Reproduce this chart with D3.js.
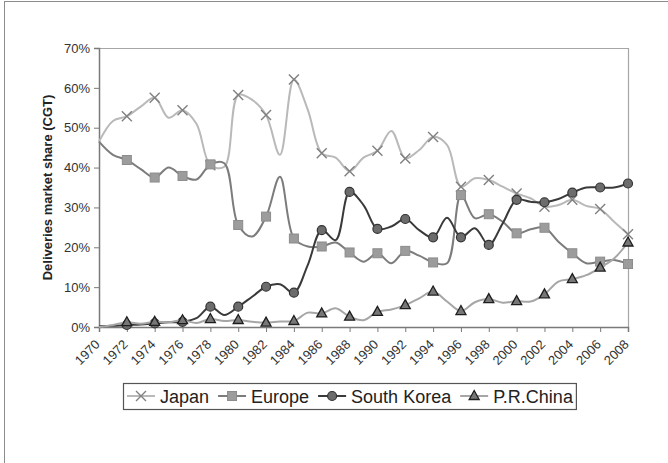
<!DOCTYPE html>
<meta charset="utf-8">
<title>Deliveries market share</title>
<style>
body { margin: 0; background: #fff; }
svg { display: block; font-family: "Liberation Sans", Arial, sans-serif; }
</style>
<svg id="chart"></svg>
<script src="https://cdn.jsdelivr.net/npm/d3@7"></script>
<script>
// annual data 1970-2008, market share in percent (CGT deliveries)
var years = d3.range(1970, 2009)
var japan = [46.5, 51.7, 52.9, 55.3, 57.5, 52.5, 54.4, 51.0, 40.6, 40.2,
  58.2, 57.0, 53.2, 43.2, 62.1, 54.5, 43.6, 42.5, 39.1, 42.5,
  44.2, 49.2, 42.3, 44.4, 47.7, 45.7, 35.2, 37.3, 36.9, 35.2,
  33.5, 32.3, 30.2, 30.6, 31.9, 30.4, 29.6, 26.4, 23.3]
var europe = [46.5, 43.2, 41.9, 39.6, 37.5, 40.0, 37.9, 37.0, 40.8, 41.1,
  25.6, 22.7, 27.7, 37.7, 22.2, 20.2, 20.2, 21.2, 18.7, 16.4,
  18.5, 16.0, 19.1, 17.9, 16.2, 16.0, 33.1, 27.3, 28.3, 26.4,
  23.5, 24.5, 24.9, 21.4, 18.5, 16.0, 16.4, 16.8, 15.8]
var korea = [0.2, 0.3, 0.5, 0.6, 0.9, 1.2, 1.3, 2.2, 5.1, 3.0,
  5.1, 7.6, 10.1, 10.7, 8.6, 15.6, 24.3, 21.8, 33.9, 30.6,
  24.6, 25.2, 27.1, 24.3, 22.5, 27.4, 22.5, 24.8, 20.6, 26.0,
  31.9, 31.4, 31.3, 32.1, 33.7, 35.0, 35.0, 35.0, 36.0]
var china = [0, 0.5, 1.2, 0.8, 1.3, 1.2, 1.7, 1.0, 2.0, 1.5,
  1.75, 1.3, 1.1, 1.4, 1.5, 3.6, 3.4, 4.7, 2.6, 1.7,
  3.8, 4.4, 5.5, 7.2, 8.9, 6.4, 4.0, 6.2, 7.0, 6.1,
  6.5, 6.4, 8.2, 11.4, 12.0, 13.0, 14.9, 17.2, 21.2]
var seriesNames = ["Japan", "Europe", "South Korea", "P.R.China"]
var yTicks = [0, 10, 20, 30, 40, 50, 60, 70]
var xTicks = d3.range(1970, 2009, 2)

var width = 668, height = 463
var margin = {left: 99, right: 40, top: 48, bottom: 136}

var svg = d3.select("#chart").attr("width", width).attr("height", height)

// outer frame (only left and top edges show)
svg.append("rect").attr("x", 4.5).attr("y", 1.5).attr("width", 700).attr("height", 500)
  .attr("fill", "none").attr("stroke", "#8c8c8c").attr("stroke-width", 1)

var x = d3.scaleLinear().domain([1970, 2008]).range([margin.left, width - margin.right])
var y = d3.scaleLinear().domain([0, 70]).range([height - margin.bottom, margin.top])

// plot border top/right
svg.append("path")
  .attr("d", "M" + x(1970) + "," + (y(70) + 0.5) + "H" + (x(2008) + 0.5) + "V" + y(0))
  .attr("fill", "none").attr("stroke", "#a6a6a6").attr("stroke-width", 1.2)

var yAxis = svg.append("g")
  .attr("transform", "translate(" + x(1970) + ",0)")
  .call(d3.axisLeft(y).tickValues(yTicks).tickSize(5).tickPadding(4).tickFormat(function(d) { return d + "%" }))
var xAxis = svg.append("g")
  .attr("transform", "translate(0," + y(0) + ")")
  .call(d3.axisBottom(x).tickValues(xTicks).tickSize(5).tickFormat(d3.format("d")))

svg.selectAll(".domain").attr("stroke", "#7a7a7a").attr("stroke-width", 1.5)
svg.selectAll(".tick line").attr("stroke", "#7a7a7a")
yAxis.selectAll("text").attr("font-size", 13).attr("fill", "#333")
xAxis.selectAll("text")
  .attr("font-size", 13).attr("fill", "#333")
  .attr("text-anchor", "end")
  .attr("transform", "translate(-2,15) rotate(-45)")
  .attr("dy", "0.35em").attr("y", 0)

svg.append("text")
  .attr("transform", "translate(52," + ((y(0) + y(70)) / 2) + ") rotate(-90)")
  .attr("text-anchor", "middle")
  .attr("font-size", 13).attr("font-weight", "bold").attr("fill", "#222")
  .text("Deliveries market share (CGT)")

var styles = [
  {values: japan, line: "#b9b9b9", marker: "x", fill: "none", stroke: "#808080"},
  {values: europe, line: "#7c7c7c", marker: "square", fill: "#9c9c9c", stroke: "#8c8c8c"},
  {values: korea, line: "#3a3a3a", marker: "circle", fill: "#6c6c6c", stroke: "#333"},
  {values: china, line: "#a6a6a6", marker: "triangle", fill: "#777", stroke: "#1e1e1e"}
]

var line = d3.line()
  .x(function(d) { return x(d.year) })
  .y(function(d) { return y(d.value) })
  .curve(d3.curveCatmullRom.alpha(0.5))

function drawMarker(g, type, s) {
  if (type === "x") {
    g.append("path").attr("d", "M-5,-5L5,5M-5,5L5,-5")
      .attr("stroke", s.stroke).attr("stroke-width", 1.4).attr("fill", "none")
  } else if (type === "square") {
    g.append("rect").attr("x", -4.5).attr("y", -4.5).attr("width", 9).attr("height", 9)
      .attr("fill", s.fill).attr("stroke", s.stroke).attr("stroke-width", 1)
  } else if (type === "circle") {
    g.append("circle").attr("r", 4.5)
      .attr("fill", s.fill).attr("stroke", s.stroke).attr("stroke-width", 1.2)
  } else {
    g.append("path").attr("d", "M0,-5.5L5,3.5L-5,3.5Z")
      .attr("fill", s.fill).attr("stroke", s.stroke).attr("stroke-width", 1.3)
  }
}

styles.forEach(function(s) {
  var pts = years.map(function(yr, i) { return {year: yr, value: s.values[i]} })
  svg.append("path").datum(pts)
    .attr("d", line).attr("fill", "none")
    .attr("stroke", s.line).attr("stroke-width", 2)
  svg.append("g").selectAll("g")
    .data(pts.filter(function(d) { return d.year % 2 === 0 && d.year > 1970 }))
    .enter().append("g")
    .attr("transform", function(d) { return "translate(" + x(d.year) + "," + y(d.value) + ")" })
    .each(function() { drawMarker(d3.select(this), s.marker, s) })
})

// legend
var legend = svg.append("g")
var lx = 127, ly = 396
styles.forEach(function(s, i) {
  var item = legend.append("g").attr("transform", "translate(" + lx + "," + ly + ")")
  item.append("line").attr("x1", 0).attr("x2", 28).attr("y1", 0).attr("y2", 0)
    .attr("stroke", s.line).attr("stroke-width", 2)
  drawMarker(item.append("g").attr("transform", "translate(14,0)"), s.marker, s)
  var t = item.append("text").attr("x", 33).attr("y", 6.5)
    .attr("font-size", 18).attr("fill", "#222").text(seriesNames[i])
  lx += 33 + t.node().getComputedTextLength() + 9
})
legend.insert("rect", ":first-child")
  .attr("x", 123.5).attr("y", 383.5).attr("width", lx - 123 - 6).attr("height", 26)
  .attr("fill", "#fff").attr("stroke", "#555").attr("stroke-width", 1.2)
</script>
